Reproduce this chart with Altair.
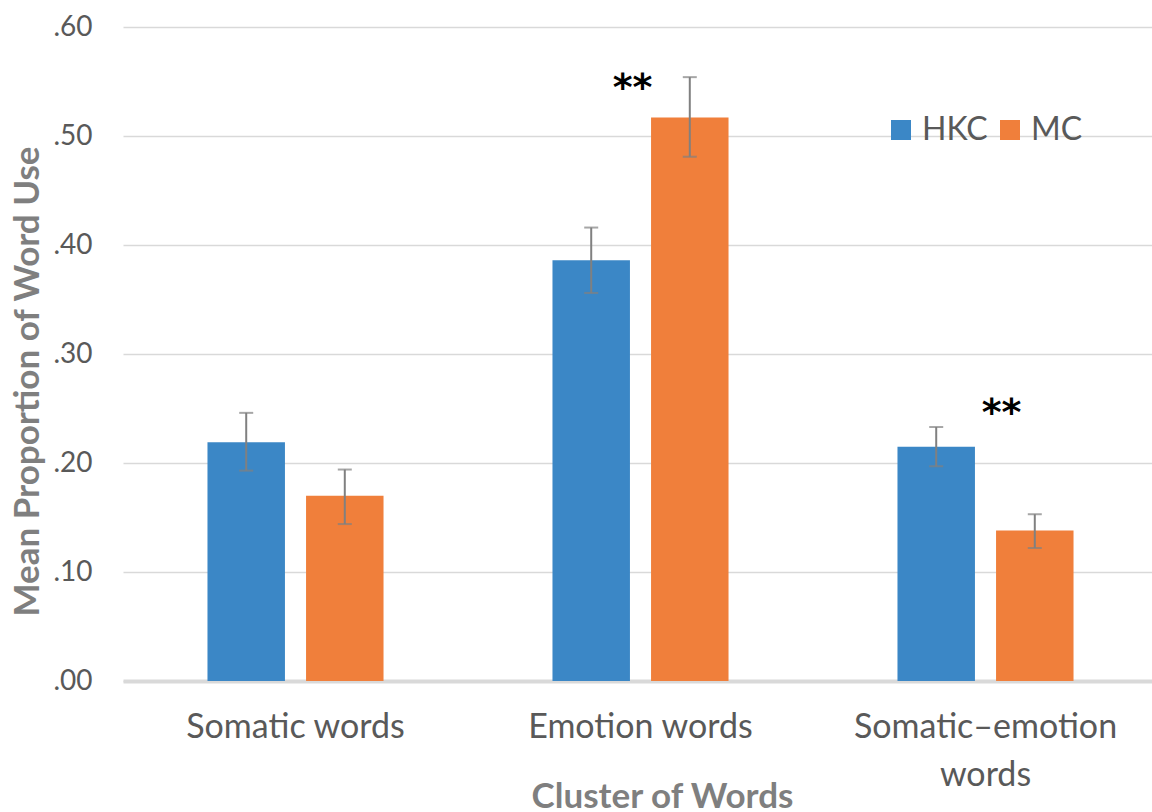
import altair as alt
import pandas as pd

categories = ["Somatic words", "Emotion words", "Somatic–emotion words"]
groups = ["HKC", "MC"]
hkc_mean = [0.219, 0.386, 0.215]
mc_mean = [0.170, 0.517, 0.138]
hkc_low = [0.193, 0.356, 0.197]
hkc_high = [0.246, 0.416, 0.233]
mc_low = [0.144, 0.481, 0.122]
mc_high = [0.194, 0.554, 0.153]
sig_cats = ["Emotion words", "Somatic–emotion words"]
sig_y = [0.551, 0.253]
sig_dx = [-8, 16]
sig_text = ["**", "**"]

rows = []
for i, c in enumerate(categories):
    rows.append(dict(cat=c, grp="HKC", mean=hkc_mean[i], lo=hkc_low[i], hi=hkc_high[i]))
    rows.append(dict(cat=c, grp="MC", mean=mc_mean[i], lo=mc_low[i], hi=mc_high[i]))
df = pd.DataFrame(rows)
sig = pd.DataFrame(dict(cat=sig_cats, y=sig_y, t=sig_text))

FONT = "Lato"
xscale = alt.Scale(domain=categories, paddingInner=0, paddingOuter=0, range=[0, 1035])
offscale = alt.Scale(domain=groups, paddingInner=0.214, paddingOuter=0.857)
yscale = alt.Scale(domain=[0, 0.6])

x_enc = alt.X(
    "cat:N", scale=xscale, sort=categories, title="Cluster of Words",
    axis=alt.Axis(
        labelAngle=0, labelFontSize=34, labelColor="#595959", labelFont=FONT,
        labelPadding=29, ticks=False, domainColor="#d9d9d9", domainWidth=4,
        labelLimit=0,
        labelExpr="datum.label == 'Somatic–emotion words' ? ['Somatic–emotion', 'words'] : datum.label",
        labelLineHeight=48,
        titleFontSize=35, titleFont=FONT, titleFontWeight="bold", titleColor="#7f7f7f",
        titleX=539, titleY=115, titleBaseline="middle", titleAlign="center",
    ),
)
y_enc = alt.Y(
    "mean:Q", scale=yscale, title="Mean Proportion of Word Use",
    axis=alt.Axis(
        values=[0, 0.1, 0.2, 0.3, 0.4, 0.5, 0.6],
        labelExpr="replace(format(datum.value, '.2f'), '0.', '.')",
        labelFontSize=28, labelColor="#595959", labelFont=FONT, labelPadding=31,
        ticks=False, domain=False, gridColor="#d9d9d9", gridWidth=1.5,
        titleFontSize=35, titleFont=FONT, titleFontWeight="bold", titleColor="#7f7f7f",
        titleX=-96, titleY=354, titleBaseline="middle", titleAlign="center", titleAngle=-90,
    ),
)
color_enc = alt.Color(
    "grp:N", scale=alt.Scale(domain=groups, range=["#3b87c6", "#f07f3b"]),
    legend=alt.Legend(
        title=None, orient="none", legendX=762, legendY=87, direction="horizontal",
        symbolType="square", symbolSize=400, symbolStrokeWidth=0,
        labelFontSize=32, labelColor="#595959", labelFont=FONT, columnPadding=6,
        labelOffset=5,
    ),
)

xc = alt.X("cat:N", scale=xscale, sort=categories)
xo = alt.XOffset("grp:N", scale=offscale, sort=groups)

base = alt.Chart(df)
bars = base.mark_bar().encode(x=x_enc, xOffset=xo, y=y_enc, color=color_enc)
rules = base.mark_rule(color="#808080", strokeWidth=2).encode(
    x=xc, xOffset=xo, y="lo:Q", y2="hi:Q",
)
caps_lo = base.mark_tick(color="#808080", thickness=2, size=14).encode(
    x=xc, xOffset=xo, y="lo:Q",
)
caps_hi = base.mark_tick(color="#808080", thickness=2, size=14).encode(
    x=xc, xOffset=xo, y="hi:Q",
)
stars_list = []
for i in range(len(sig_cats)):
    stars_list.append(
        alt.Chart(sig.iloc[[i]]).mark_text(fontSize=38, font="DejaVu Sans", fontWeight="bold",
                                           color="#000000", baseline="middle",
                                           dx=sig_dx[i], dy=9).encode(
            x=xc,
            y=alt.Y("y:Q", scale=yscale),
            text="t:N",
        )
    )

chart = alt.layer(bars, rules, caps_lo, caps_hi, *stars_list).properties(
    width=1029, height=654,
    autosize=alt.AutoSizeParams(type="none"),
    padding={"left": 123, "top": 27, "right": 0, "bottom": 131},
    background="white",
).configure_view(stroke=None)

chart.save("out.html", embed_options={"renderer": "svg", "actions": False})
